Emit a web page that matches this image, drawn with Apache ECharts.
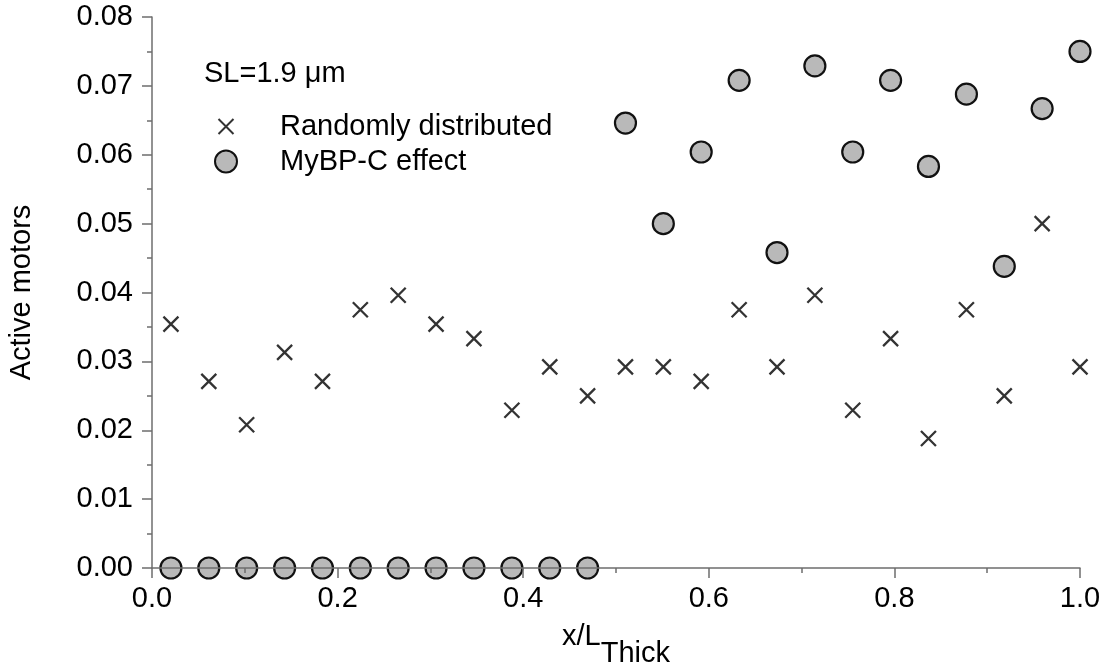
<!DOCTYPE html>
<html>
<head>
<meta charset="utf-8">
<script src="https://cdn.jsdelivr.net/npm/echarts@6/dist/echarts.min.js"></script>
<style>
  html, body { margin: 0; padding: 0; background: #fff; }
  #chart { width: 1109px; height: 667px; }
</style>
</head>
<body>
<div id="chart"></div>
<script>
// position along the thick filament
var xPos = [0.0204, 0.0612, 0.1020, 0.1429, 0.1837, 0.2245, 0.2653, 0.3061, 0.3469, 0.3878,
  0.4286, 0.4694, 0.5102, 0.5510, 0.5918, 0.6327, 0.6735, 0.7143, 0.7551, 0.7959,
  0.8367, 0.8776, 0.9184, 0.9592, 1.0000];
// Randomly distributed
var randomVals = [0.0354, 0.0271, 0.0208, 0.0313, 0.0271, 0.0375, 0.0396, 0.0354, 0.0333, 0.0229,
  0.0292, 0.0250, 0.0292, 0.0292, 0.0271, 0.0375, 0.0292, 0.0396, 0.0229, 0.0333,
  0.0188, 0.0375, 0.0250, 0.0500, 0.0292];
// MyBP-C effect
var mybpcVals = [0, 0, 0, 0, 0, 0, 0, 0, 0, 0,
  0, 0, 0.0646, 0.0500, 0.0604, 0.0708, 0.0458, 0.0729, 0.0604, 0.0708,
  0.0583, 0.0688, 0.0438, 0.0667, 0.0750];
var seriesNames = ["Randomly distributed", "MyBP-C effect"];
var legendTitle = "SL=1.9 μm";

var FONT = "Liberation Sans";
var FS = 29;
// 十字符号，四周留白让叉比圆小一点
var crossPath = "path://M-3.5,-3.5M0,0L15,15M15,0L0,15M18.5,18.5";

function pairs(vals) {
  return vals.map(function (v, i) { return [xPos[i], v]; });
}

var chart = echarts.init(document.getElementById("chart"));
var option = {
  animation: false,
  title: {
    text: legendTitle,
    left: 204,
    top: 59,
    padding: 0,
    textStyle: { fontFamily: FONT, fontSize: FS, fontWeight: "normal", color: "#000" },
  },
  legend: {
    orient: "vertical",
    left: 214,
    top: 112,
    itemWidth: 22,
    itemHeight: 22,
    itemGap: 6,
    padding: 0,
    data: seriesNames,
    textStyle: { fontFamily: FONT, fontSize: FS, color: "#000", padding: [0, 0, 0, 38] },
  },
  grid: { left: 152, right: 29, top: 17, bottom: 99, outerBoundsMode: "none" },
  xAxis: {
    type: "value",
    min: 0,
    max: 1,
    interval: 0.2,
    z: 5,
    name: "{a|x/L}{b|Thick}",
    nameLocation: "middle",
    nameGap: 54,
    nameTextStyle: {
      rich: {
        a: { fontFamily: FONT, fontSize: FS, color: "#000", verticalAlign: "top" },
        b: { fontFamily: FONT, fontSize: FS, color: "#000", padding: [17, 0, 0, 0] },
      },
    },
    axisLine: { lineStyle: { color: "#6e6e6e", width: 1.5 } },
    axisTick: { inside: false, length: 10, lineStyle: { color: "#6e6e6e", width: 1.5 } },
    minorTick: { show: true, splitNumber: 2, length: 5, lineStyle: { color: "#6e6e6e", width: 1.5 } },
    splitLine: { show: false },
    axisLabel: {
      margin: 16,
      fontFamily: FONT,
      fontSize: FS,
      color: "#000",
      formatter: function (v) { return v.toFixed(1); },
    },
  },
  yAxis: {
    type: "value",
    min: 0,
    max: 0.08,
    interval: 0.01,
    z: 5,
    name: "Active motors",
    nameLocation: "middle",
    nameGap: 116,
    nameTextStyle: { fontFamily: FONT, fontSize: FS, color: "#000" },
    axisLine: { lineStyle: { color: "#6e6e6e", width: 1.5 } },
    axisTick: { inside: false, length: 10, lineStyle: { color: "#6e6e6e", width: 1.5 } },
    minorTick: { show: true, splitNumber: 2, length: 5, lineStyle: { color: "#6e6e6e", width: 1.5 } },
    splitLine: { show: false },
    axisLabel: {
      margin: 19,
      fontFamily: FONT,
      fontSize: FS,
      color: "#000",
      formatter: function (v) { return v.toFixed(2); },
    },
  },
  series: [
    {
      name: seriesNames[0],
      type: "scatter",
      symbol: crossPath,
      symbolSize: 22,
      data: pairs(randomVals),
      itemStyle: { color: "#000", borderColor: "#000", borderWidth: 2.3 },
    },
    {
      name: seriesNames[1],
      type: "scatter",
      symbol: "circle",
      symbolSize: 21,
      data: pairs(mybpcVals),
      itemStyle: { color: "#b9b9b9", borderColor: "#111", borderWidth: 2.2, opacity: 1 },
    },
  ],
};
chart.setOption(option);
</script>
</body>
</html>
